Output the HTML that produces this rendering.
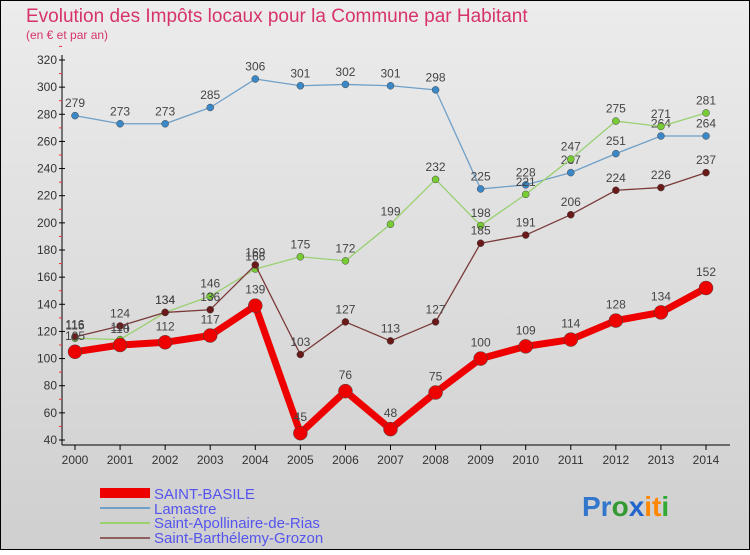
<!DOCTYPE html>
<html><head><meta charset="utf-8"><style>
html,body{margin:0;padding:0}
body{width:750px;height:550px;overflow:hidden;font-family:"Liberation Sans",sans-serif}
svg text{font-family:"Liberation Sans",sans-serif}
</style></head><body>
<svg id="chart" width="750" height="550" xmlns="http://www.w3.org/2000/svg">
<defs><linearGradient id="bg" x1="0" y1="0" x2="0" y2="1"><stop offset="0" stop-color="#ececec"/><stop offset="1" stop-color="#cfcfcf"/></linearGradient></defs>
<rect x="0.5" y="0.5" width="749" height="549" fill="url(#bg)" stroke="#000"/>
<text x="26" y="22" font-size="19" fill="#d6336c">Evolution des Impôts locaux pour la Commune par Habitant</text>
<text x="26" y="39" font-size="12" fill="#d6336c">(en € et par an)</text>
<g id="grid"></g><g id="axes"></g><g id="series"></g>
<g>
<rect x="100" y="488" width="50" height="10" fill="#ee0000"/>
<text x="154" y="499" font-size="15" fill="#5555ee">SAINT-BASILE</text>
<rect x="100" y="507" width="50" height="2" fill="#6fa0c8"/>
<text x="154" y="514" font-size="15" fill="#5555ee">Lamastre</text>
<rect x="100" y="522" width="50" height="2" fill="#99d070"/>
<text x="154" y="528" font-size="15" fill="#5555ee">Saint-Apollinaire-de-Rias</text>
<rect x="100" y="537" width="50" height="2" fill="#906060"/>
<text x="154" y="543" font-size="15" fill="#5555ee">Saint-Barthélemy-Grozon</text>
</g>
<text x="582" y="516" font-size="28" font-weight="bold"><tspan fill="#3377cc">Pr</tspan><tspan fill="#339933">o</tspan><tspan fill="#2266cc">x</tspan><tspan fill="#ff8800">it</tspan><tspan fill="#33aa33">i</tspan></text>
</svg>
<script>
const years=[2000,2001,2002,2003,2004,2005,2006,2007,2008,2009,2010,2011,2012,2013,2014];
const yTicks=[40,60,80,100,120,140,160,180,200,220,240,260,280,300,320];
const basile=[105,110,112,117,139,45,76,48,75,100,109,114,128,134,152];
const lamastre=[279,273,273,285,306,301,302,301,298,225,228,237,251,264,264];
const apollinaire=[115,114,134,146,166,175,172,199,232,198,221,247,275,271,281];
const barthelemy=[116,124,134,136,169,103,127,113,127,185,191,206,224,226,237];
const NS="http://www.w3.org/2000/svg";
function x(i){return 75+i*(706-75)/(years.length-1);}
function y(v){return 440-(v-40)*(380/280);}
function mk(tag,attrs,parent){const e=document.createElementNS(NS,tag);for(const k in attrs)e.setAttribute(k,attrs[k]);parent.appendChild(e);return e;}
const axes=document.getElementById('axes'),grid=document.getElementById('grid'),ser=document.getElementById('series');
const ya=mk('line',{x1:62,y1:55,x2:62,y2:445,stroke:'#000'},axes);


const xa=mk('line',{x1:62,y1:445,x2:730,y2:445,stroke:'#000'},axes);


yTicks.forEach(v=>{
  mk('line',{x1:59,y1:y(v),x2:65,y2:y(v),stroke:'#000'},axes);
  mk('line',{x1:59,y1:y(v+10),x2:62,y2:y(v+10),stroke:'#e33'},axes);
  const t=mk('text',{x:57,y:y(v)+4,'font-size':12,'text-anchor':'end',fill:'#333'},axes);
  t.textContent=v;
  
  
});
years.forEach((yr,i)=>{
  mk('line',{x1:x(i),y1:445,x2:x(i),y2:450,stroke:'#000'},axes);
  const t=mk('text',{x:x(i),y:464,'font-size':12,'text-anchor':'middle',fill:'#333'},axes);
  t.textContent=yr;
  
  
});
function draw(data,name,color,dot,w,r,labelColor){
  const g=mk('g',{},ser);
  
  
  const p=mk('polyline',{points:data.map((v,i)=>x(i)+','+y(v)).join(' '),fill:'none',stroke:color,'stroke-width':w,'stroke-linejoin':'round'},g);
  
  
  data.forEach((v,i)=>{
    const c=mk('circle',{cx:x(i),cy:y(v),r:r,fill:dot,stroke:'#444','stroke-width':0.5},g);
    
    
    const t=mk('text',{x:x(i),y:y(v)-(r+5),'font-size':12,'text-anchor':'middle',fill:labelColor},g);
    t.textContent=v;
    
    
  });
}
draw(lamastre,'lamastre','#6fa0c8','#3b88c8',1.3,3.5,'#444');
draw(apollinaire,'saint-apollinaire','#99d070','#77cc33',1.3,3.5,'#444');
draw(barthelemy,'saint-barthelemy','#7a3a3a','#6b1a1a',1.3,3.5,'#444');
draw(basile,'saint-basile','#ee0000','#ee0000',7,7,'#444');
</script>
</body></html>
